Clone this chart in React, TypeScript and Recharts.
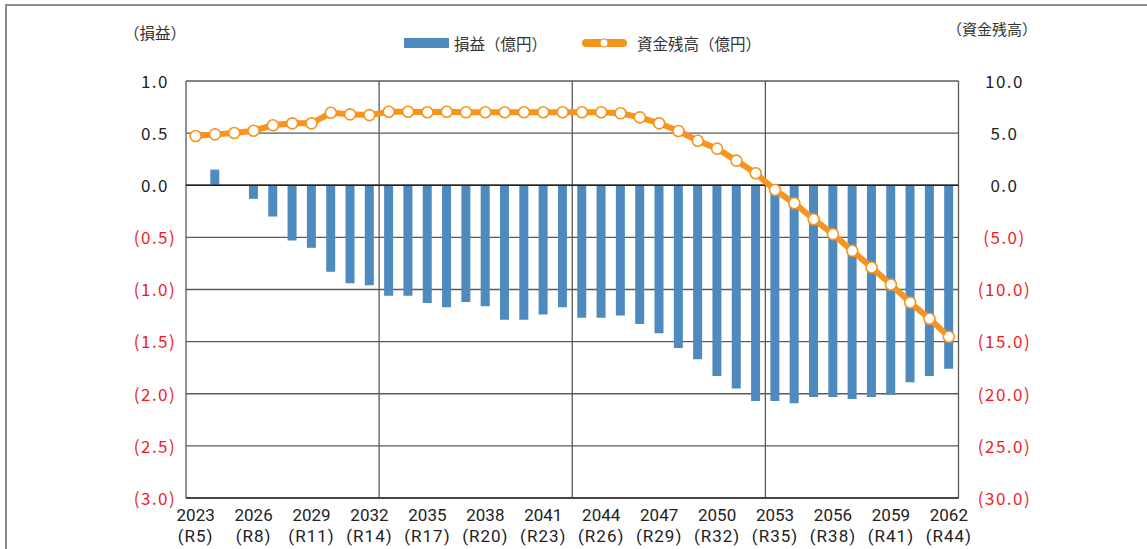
import React from 'react';
import { ComposedChart, Bar, Line, XAxis, YAxis, CartesianGrid, ReferenceLine } from 'recharts';

const years = [
  2023, 2024, 2025, 2026, 2027, 2028, 2029, 2030, 2031, 2032,
  2033, 2034, 2035, 2036, 2037, 2038, 2039, 2040, 2041, 2042,
  2043, 2044, 2045, 2046, 2047, 2048, 2049, 2050, 2051, 2052,
  2053, 2054, 2055, 2056, 2057, 2058, 2059, 2060, 2061, 2062,
];
const eraLabels = [
  'R5', 'R6', 'R7', 'R8', 'R9', 'R10', 'R11', 'R12', 'R13', 'R14',
  'R15', 'R16', 'R17', 'R18', 'R19', 'R20', 'R21', 'R22', 'R23', 'R24',
  'R25', 'R26', 'R27', 'R28', 'R29', 'R30', 'R31', 'R32', 'R33', 'R34',
  'R35', 'R36', 'R37', 'R38', 'R39', 'R40', 'R41', 'R42', 'R43', 'R44',
];
// 損益（億円）
const profit = [
  0, 0.15, 0, -0.13, -0.3, -0.53, -0.6, -0.83, -0.94, -0.96,
  -1.06, -1.06, -1.13, -1.17, -1.12, -1.16, -1.29, -1.29, -1.24, -1.17,
  -1.27, -1.27, -1.25, -1.33, -1.42, -1.56, -1.67, -1.83, -1.95, -2.07,
  -2.07, -2.09, -2.03, -2.03, -2.05, -2.03, -2.01, -1.89, -1.83, -1.76,
];
// 資金残高（億円）
const balance = [
  4.72, 4.88, 5.01, 5.23, 5.75, 5.94, 5.94, 6.95, 6.8, 6.73,
  7.05, 7.05, 7.0, 7.05, 7.0, 7.0, 7.0, 7.0, 7.0, 7.0,
  7.0, 7.0, 6.9, 6.51, 5.94, 5.2, 4.27, 3.51, 2.36, 1.15,
  -0.46, -1.72, -3.26, -4.69, -6.29, -7.89, -9.52, -11.25, -12.81, -14.53,
];
const leftTicks = [1, 0.5, 0, -0.5, -1, -1.5, -2, -2.5, -3];
const rightTicks = [10, 5, 0, -5, -10, -15, -20, -25, -30];

const data = years.map((y, i) => ({
  year: String(y),
  era: eraLabels[i],
  profit: profit[i],
  balance: balance[i],
}));

const FONT = '"Noto Sans CJK JP", "Noto Sans", sans-serif';
const XFONT = 'Roboto, "Liberation Sans", sans-serif';
const BAR = '#4e8abe';
const ORANGE = '#f7941d';
const RED = '#ee1c25';

const fmt = (v: number) => (v < 0 ? `(${Math.abs(v).toFixed(1)})` : v.toFixed(1));

const XTick = (props: any) => {
  const { x, y, payload } = props;
  const era = data.find((d) => d.year === payload.value)?.era ?? '';
  return (
    <g>
      <text x={x} y={y + 23} textAnchor="middle" fontFamily={XFONT} fontSize={17} fill="#222">
        {payload.value}
      </text>
      <text x={x} y={y + 44} textAnchor="middle" fontFamily={XFONT} fontSize={17} fill="#222" letterSpacing={1}>
        {`(${era})`}
      </text>
    </g>
  );
};

const LeftTick = (props: any) => {
  const { x, y, payload } = props;
  const v = payload.value as number;
  return (
    <text x={x - 31} y={y} dy="0.4em" textAnchor="middle" fontFamily={FONT} fontSize={17}
      letterSpacing={1.5} fill={v < 0 ? RED : '#222'}>
      {fmt(v)}
    </text>
  );
};

const RightTick = (props: any) => {
  const { x, y, payload } = props;
  const v = payload.value as number;
  return (
    <text x={x + 46} y={y} dy="0.4em" textAnchor="middle" fontFamily={FONT} fontSize={17}
      letterSpacing={1.5} fill={v < 0 ? RED : '#222'}>
      {fmt(v)}
    </text>
  );
};

const Dot = (props: any) => {
  const { cx, cy, index } = props;
  if (cx == null || cy == null) return null;
  return <circle key={index} cx={cx} cy={cy} r={5.5} fill="#fff" stroke={ORANGE} strokeWidth={1.6} />;
};

export default function App() {
  return (
    <div style={{ position: 'absolute', left: 0, top: 0, width: 1147, height: 549, overflow: 'hidden', background: '#fff', fontFamily: FONT }}>
      <div style={{ position: 'absolute', left: 5, top: 4, width: 1200, height: 600, border: '2px solid #8c8c8c', boxSizing: 'border-box' }} />
      <div style={{ position: 'absolute', left: 95, top: 22, width: 120, textAlign: 'center', fontSize: 15.5, color: '#333', lineHeight: '20px' }}>（損益）</div>
      <div style={{ position: 'absolute', left: 922, top: 19, width: 140, textAlign: 'center', fontSize: 15, color: '#333', lineHeight: '20px' }}>（資金残高）</div>
      {/* legend */}
      <div style={{ position: 'absolute', left: 404, top: 33, height: 20, display: 'flex', alignItems: 'center', fontSize: 15.5, color: '#333' }}>
        <svg width={46} height={20} style={{ display: 'block' }}>
          <rect x={0} y={5} width={45} height={10} fill={BAR} />
        </svg>
        <span style={{ marginLeft: 4, lineHeight: '20px' }}>損益（億円）</span>
      </div>
      <div style={{ position: 'absolute', left: 582, top: 33, height: 20, display: 'flex', alignItems: 'center', fontSize: 15.5, color: '#333' }}>
        <svg width={46} height={20} style={{ display: 'block' }}>
          <line x1={4} y1={10} x2={41} y2={10} stroke={ORANGE} strokeWidth={8} strokeLinecap="round" />
          <circle cx={22} cy={10} r={4} fill="#fff" stroke={ORANGE} strokeWidth={1.2} />
        </svg>
        <span style={{ marginLeft: 9, lineHeight: '20px' }}>資金残高（億円）</span>
      </div>
      <div style={{ position: 'absolute', left: 0, top: 0 }}>
        <ComposedChart width={1147} height={549} data={data}
          margin={{ top: 81, right: 128.5, bottom: 1, left: 126 }}
          barSize={9}>
          <CartesianGrid yAxisId="left" stroke="#5a5a5a" strokeWidth={1.3}
            verticalCoordinatesGenerator={({ offset }: any) => [
              offset.left, offset.left + offset.width * 0.25, offset.left + offset.width * 0.5,
              offset.left + offset.width * 0.75, offset.left + offset.width,
            ]}
            verticalFill={[]} horizontalFill={[]} />
          <XAxis dataKey="year" interval={2} tickLine={false} tickSize={0} tickMargin={0}
            height={50} axisLine={{ stroke: '#333', strokeWidth: 1.5 }} tick={<XTick />} />
          <YAxis yAxisId="left" domain={[-3, 1]} ticks={leftTicks} interval={0} width={60}
            axisLine={false} tickLine={false} tickSize={0} tickMargin={0} tick={<LeftTick />} />
          <YAxis yAxisId="right" orientation="right" domain={[-30, 10]} ticks={rightTicks} interval={0} width={60}
            axisLine={false} tickLine={false} tickSize={0} tickMargin={0} tick={<RightTick />} />
          <ReferenceLine yAxisId="left" y={0} stroke="#222" strokeWidth={1.3} />
          <Bar yAxisId="left" dataKey="profit" fill={BAR} isAnimationActive={false} />
          <Line yAxisId="right" dataKey="balance" stroke={ORANGE} strokeWidth={6} type="linear"
            dot={<Dot />} activeDot={false} isAnimationActive={false} />
        </ComposedChart>
      </div>
    </div>
  );
}
